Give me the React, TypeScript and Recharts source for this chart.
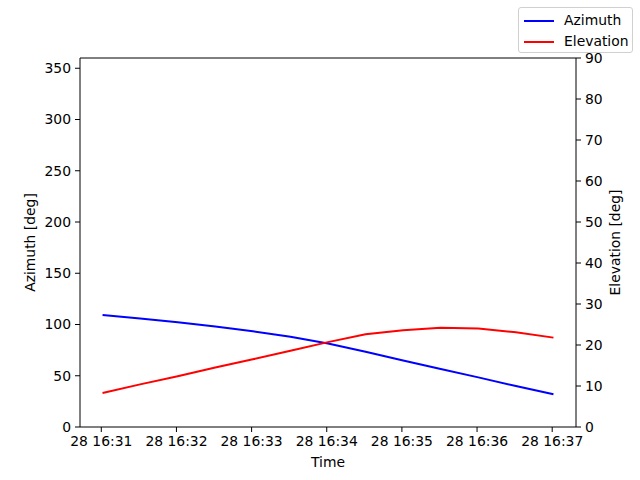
import React from 'react';
import { ComposedChart, Line, XAxis, YAxis, Legend, Label, ReferenceLine } from 'recharts';

// seconds after 28 16:31:00
const timesSec = [1, 31, 61, 91, 121, 151, 181, 211, 241, 271, 301, 331, 361];
const azimuthDeg = [109.3, 105.8, 102.1, 98.0, 93.4, 88.0, 81.5, 73.5, 64.9, 56.6, 48.4, 40.0, 31.9];
const elevationDeg = [8.3, 10.4, 12.4, 14.5, 16.5, 18.6, 20.7, 22.6, 23.6, 24.2, 24.0, 23.1, 21.8];
const xTicks = [0, 60, 120, 180, 240, 300, 360];
const xTickLabels = ['28 16:31', '28 16:32', '28 16:33', '28 16:34', '28 16:35', '28 16:36', '28 16:37'];
const azTicks = [0, 50, 100, 150, 200, 250, 300, 350];
const elTicks = [0, 10, 20, 30, 40, 50, 60, 70, 80, 90];

const data = timesSec.map((t, i) => ({ t, az: azimuthDeg[i], el: elevationDeg[i] }));

const FONT = 'DejaVu Sans, sans-serif';
const tickStyle = { fill: '#000', fontSize: 13.9, fontFamily: FONT };

const LegendBox = () => (
  <div
    style={{
      position: 'absolute',
      left: 518,
      top: 7,
      width: 113,
      height: 44,
      border: '1px solid #d0d0d0',
      borderRadius: 3,
      background: 'rgba(255,255,255,0.8)',
      fontFamily: FONT,
      fontSize: 13.9,
      color: '#000',
      boxSizing: 'content-box',
    }}
  >
    {[
      { name: 'Azimuth', color: '#0000ff', top: 4 },
      { name: 'Elevation', color: '#ff0000', top: 25 },
    ].map((e) => (
      <div key={e.name} style={{ position: 'absolute', left: 5, top: e.top, height: 17, display: 'flex', alignItems: 'center' }}>
        <div style={{ width: 30, height: 2, background: e.color }} />
        <span style={{ marginLeft: 10, lineHeight: '17px' }}>{e.name}</span>
      </div>
    ))}
  </div>
);

export default function App() {
  return (
    <div style={{ position: 'absolute', left: 0, top: 0, width: 640, height: 480, background: '#fff' }}>
      <ComposedChart
        width={640}
        height={480}
        data={data}
        margin={{ top: 58, right: 4, bottom: 8, left: 20 }}
      >
        <XAxis
          dataKey="t"
          type="number"
          domain={[-17, 379]}
          ticks={xTicks}
          tickFormatter={(v: number) => xTickLabels[xTicks.indexOf(v)] ?? ''}
          interval={0}
          allowDataOverflow
          height={45}
          tick={tickStyle}
          tickSize={5}
          tickMargin={4}
          stroke="#000"
          tickLine={{ stroke: '#000' }}
          axisLine={{ stroke: '#000' }}
        >
          <Label value="Time" position="center" dy={13} style={{ fill: '#000', fontSize: 13.9, fontFamily: FONT }} />
        </XAxis>
        <YAxis
          yAxisId="az"
          orientation="left"
          domain={[0, 360]}
          ticks={azTicks}
          interval={0}
          width={60}
          tick={tickStyle}
          tickSize={5}
          tickMargin={4}
          tickLine={{ stroke: '#000' }}
          axisLine={{ stroke: '#000' }}
        >
          <Label value="Azimuth [deg]" angle={-90} position="center" dx={-20} style={{ fill: '#000', fontSize: 13.9, fontFamily: FONT, textAnchor: 'middle' }} />
        </YAxis>
        <YAxis
          yAxisId="el"
          orientation="right"
          domain={[0, 90]}
          ticks={elTicks}
          interval={0}
          width={60}
          tick={tickStyle}
          tickSize={5}
          tickMargin={4}
          tickLine={{ stroke: '#000' }}
          axisLine={{ stroke: '#000' }}
        >
          <Label value="Elevation [deg]" angle={-90} position="center" dx={9} style={{ fill: '#000', fontSize: 13.9, fontFamily: FONT, textAnchor: 'middle' }} />
        </YAxis>
        <ReferenceLine yAxisId="az" y={360} stroke="#000" strokeWidth={1} />
        <Legend content={() => <LegendBox />} wrapperStyle={{ position: 'absolute', left: 0, top: 0, width: 0, height: 0 }} />
        <Line yAxisId="az" dataKey="az" name="Azimuth" stroke="#0000ff" strokeWidth={2} dot={false} type="linear" isAnimationActive={false} />
        <Line yAxisId="el" dataKey="el" name="Elevation" stroke="#ff0000" strokeWidth={2} dot={false} type="linear" isAnimationActive={false} />
      </ComposedChart>
    </div>
  );
}
